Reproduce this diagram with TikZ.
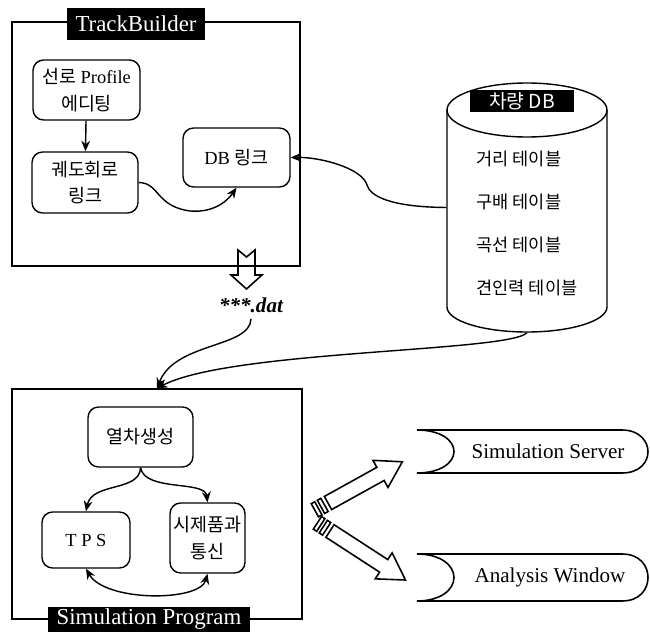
\documentclass[tikz,border=0pt]{standalone}
\usepackage{fontspec}
\setmainfont{Liberation Serif}
\newfontfamily\kr{Noto Sans CJK KR}
\usetikzlibrary{arrows.meta}

\begin{document}
\begin{tikzpicture}[
  x=0.02cm, y=-0.02cm,
  >={Stealth[length=6pt,width=5pt]},
  line width=0.8pt,
  box/.style={rectangle, draw, rounded corners=6pt, align=center, inner sep=2pt, font=\fontsize{10.5}{15}\selectfont},
  frame/.style={rectangle, draw, inner sep=0pt},
  title/.style={fill=black, text=white, inner sep=0pt, font=\fontsize{13}{15}\selectfont},
  item/.style={anchor=west, font=\kr\fontsize{10}{12}\selectfont},
  flow/.style={->, line width=0.8pt},
  hollow/.style={draw, fill=white, line width=0.9pt, line join=miter},
  tray/.style={draw, line width=0.9pt}
]
  \useasboundingbox (0,0) rectangle (650,642);

  % TrackBuilder
  \node[frame, minimum width=5.76cm, minimum height=4.88cm] (track) at (156,144) {};
  \node[title, minimum width=2.75cm, minimum height=0.66cm] (tracktitle) at (136,24) {TrackBuilder};
  \node[box, minimum width=2.14cm, minimum height=1.2cm] (prof) at (86.5,90) {{\kr 선로} Profile\\{\kr 에디팅}};
  \node[box, minimum width=2.12cm, minimum height=1.22cm] (trk) at (85,182.5) {\kr 궤도회로\\\kr 링크};
  \node[box, minimum width=2.14cm, minimum height=1.18cm] (dblink) at (236.5,157.5) {DB {\kr 링크}};
  \draw[flow] (prof) -- (trk);
  \draw[flow] (trk.east) .. controls (160,183) and (155,206) .. (190,211)
    .. controls (215,213) and (228,200) .. (dblink.south);

  % output file
  \draw[hollow, fill=none] (238,250) -- (246.5,257) -- (255,250) -- (255,275) -- (262,275)
    -- (246.5,289) -- (231,275) -- (238,275) -- cycle;
  \node[font=\bfseries\itshape\fontsize{12}{14}\selectfont] (dat) at (251,305) {***.dat};

  % DB cylinder
  \node[inner sep=0pt, minimum width=3.2cm, minimum height=4.98cm] (db) at (527,207.5) {};
  \draw (447,110) -- (447,307) arc[start angle=180, end angle=0, x radius=80, y radius=25]
    -- (607,110);
  \draw (527,110) ellipse[x radius=80, y radius=27];
  \node[title, minimum width=2.1cm, minimum height=0.44cm, font=\kr\fontsize{11}{13}\selectfont] (dbtitle) at (522,101) {차량 DB};
  \node[item] (dist) at (470,159) {거리 테이블};
  \node[item] (grad) at (470,202) {구배 테이블};
  \node[item] (curv) at (470,245) {곡선 테이블};
  \node[item] (trac) at (470,288) {견인력 테이블};
  \draw[flow] (db.west) .. controls (390,207) and (370,196) .. (367,185)
    .. controls (362,168) and (320,157) .. (dblink.east);

  % Simulation Program
  \node[frame, minimum width=5.8cm, minimum height=4.6cm] (sim) at (157,504) {};
  \node[title, minimum width=4.06cm, minimum height=0.5cm] (simtitle) at (149,619.5) {Simulation Program};
  \node[box, minimum width=2.1cm, minimum height=1.2cm] (gen) at (140.5,437) {\kr 열차생성};
  \node[box, minimum width=1.76cm, minimum height=1.12cm] (tps) at (86,540) {T P S};
  \node[box, minimum width=1.42cm, minimum height=1.4cm] (comm) at (207.5,538) {\kr 시제품과\\\kr 통신};
  \draw[flow] (gen.south) .. controls (140,492) and (92,482) .. (tps.north);
  \draw[flow] (gen.south) .. controls (145,492) and (205,480) .. (comm.north);
  \draw[<->] (tps.south) .. controls (105,602) and (200,602) .. (comm.south);
  \draw[flow] (dat.south) .. controls (250,348) and (175,342) .. (sim.north);
  \draw[flow] (db.south) .. controls (510,352) and (230,350) .. (sim.north);

  % outputs
  \begin{scope}[shift={(328,503)}, rotate=29]
    \draw[hollow] (0,-7.5) -- (60,-7.5) -- (60,-15.5) -- (85,0) -- (60,15.5) -- (60,7.5) -- (0,7.5) -- cycle;
    \draw[hollow] (-8,-7.5) rectangle (-4,7.5);
    \draw[hollow] (-15,-7.5) rectangle (-11,7.5);
  \end{scope}
  \begin{scope}[shift={(330,531)}, rotate=-33]
    \draw[hollow] (0,-7.5) -- (64,-7.5) -- (64,-15.5) -- (90,0) -- (64,15.5) -- (64,7.5) -- (0,7.5) -- cycle;
    \draw[hollow] (-8,-7.5) rectangle (-4,7.5);
    \draw[hollow] (-15,-7.5) rectangle (-11,7.5);
  \end{scope}
  \draw[tray] (417,430) -- (622,430) .. controls (640,430) and (648,442) .. (648,451.5)
    .. controls (648,462) and (640,473) .. (622,473) -- (417,473)
    .. controls (440,473) and (454,463) .. (454,451.5) .. controls (454,440) and (440,430) .. (417,430);
  \node[font=\fontsize{12}{14}\selectfont] (server) at (548,451.5) {Simulation Server};
  \draw[tray] (417,554) -- (622,554) .. controls (640,554) and (648,566) .. (648,577.5)
    .. controls (648,589) and (640,601) .. (622,601) -- (417,601)
    .. controls (440,601) and (454,590) .. (454,577.5) .. controls (454,565) and (440,554) .. (417,554);
  \node[font=\fontsize{12}{14}\selectfont] (window) at (550,577.5) {Analysis Window};
\end{tikzpicture}
\end{document}
